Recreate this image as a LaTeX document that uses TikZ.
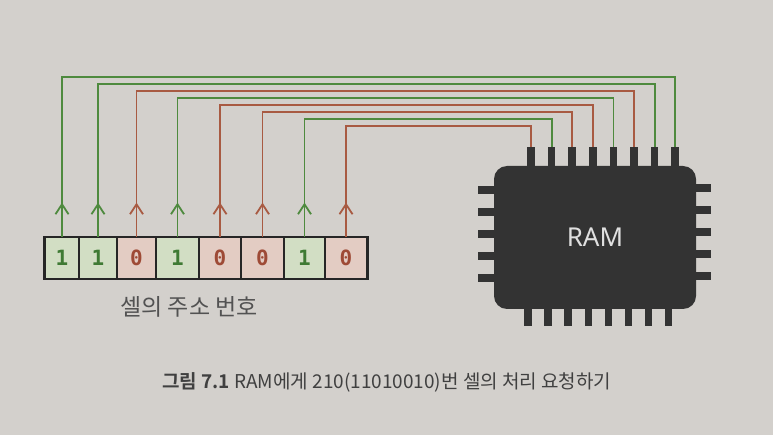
\documentclass[tikz,border=0pt]{standalone}
\usepackage{fontspec}
\setmainfont{Noto Sans}
\newfontfamily\kr{Noto Sans CJK KR}
\newfontfamily\krb{Noto Sans CJK KR}[BoldFont={* Bold}]
\newfontfamily\digitfont{DejaVu Sans Mono}
\usetikzlibrary{arrows.meta}
\definecolor{paper}{HTML}{D3D0CC}
\definecolor{gline}{HTML}{4E8A3E}
\definecolor{rline}{HTML}{A85A42}
\definecolor{gfill}{HTML}{D2DEC4}
\definecolor{rfill}{HTML}{E3CCC3}
\definecolor{gtext}{HTML}{3F7A34}
\definecolor{rtext}{HTML}{9E4A36}
\definecolor{chipc}{HTML}{333333}
\begin{document}
\begin{tikzpicture}[x=1pt,y=-1pt,
  cellbox/.style={draw=black!85,line width=1.8pt,minimum height=41pt,inner sep=0pt,font=\digitfont\bfseries\fontsize{21}{21}\selectfont},
  onecell/.style={cellbox,fill=gfill,text=gtext},
  zerocell/.style={cellbox,fill=rfill,text=rtext},
  gw/.style={draw=gline,line width=1.8pt},
  rw/.style={draw=rline,line width=1.8pt},
  uptip/.style={-{Straight Barb[length=10pt,width=13pt,line width=1.8pt]}},
  pinv/.style={fill=chipc,minimum width=7.5pt,minimum height=20pt,inner sep=0pt},
  pinb/.style={fill=chipc,minimum width=7.5pt,minimum height=17pt,inner sep=0pt},
  pinh/.style={fill=chipc,minimum width=16pt,minimum height=7.5pt,inner sep=0pt},
]
\fill[paper] (0,0) rectangle (773,435);
\useasboundingbox (0,0) rectangle (773,435);

% chip
\node[fill=chipc,rounded corners=13pt,minimum width=202pt,minimum height=143pt,inner sep=0pt,
      text=black!12,font=\fontsize{26}{26}\selectfont] (ram) at (595,237.5) {RAM};
% top pins
\foreach \k in {0,...,7}{
  \node[pinv] (p\k) at ({531+20.6*\k},157) {};
}
% bottom pins
\foreach \k in {0,...,7}{
  \node[pinb] (b\k) at ({528+20.1*\k},317) {};
}
% side pins
\foreach \k/\yy in {0/190,1/212,2/234,3/256,4/278}{
  \node[pinh] (l\k) at (486,\yy) {};
  \node[pinh] (r\k) at (703,\yy-2) {};
}

% cells
\node[onecell,minimum width=34pt]  (c0) at (62,258) {1};
\node[onecell,minimum width=38pt]  (c1) at (98,258) {1};
\node[zerocell,minimum width=39pt] (c2) at (136.5,258) {0};
\node[onecell,minimum width=43pt]  (c3) at (177.5,258) {1};
\node[zerocell,minimum width=42pt] (c4) at (220,258) {0};
\node[zerocell,minimum width=43pt] (c5) at (262.5,258) {0};
\node[onecell,minimum width=41pt]  (c6) at (304.5,258) {1};
\node[zerocell,minimum width=42pt] (c7) at (346,258) {0};
\draw[draw=black!85,line width=1.8pt] (c0.north west) rectangle (c7.south east);

% wires
\foreach \i/\p/\lev/\st in {0/7/77/gw,1/6/84/gw,2/5/91/rw,3/4/98/gw,4/3/105/rw,5/2/112/rw,6/1/119/gw,7/0/126/rw}{
  \draw[\st] (c\i.north) -- (c\i.north |- 0,\lev) -| (p\p.north);
  \draw[\st,uptip] (c\i.north) -- ++(0,-34);
}

% labels
\node[font=\kr\fontsize{23}{23}\selectfont,text=black!68] (lbl) at (189,307) {셀의 주소 번호};
\node[anchor=west,font=\krb\fontsize{19}{19}\selectfont,text=black!75,inner sep=0pt] (cap) at (162,382)
  {\textbf{그림 7.1} RAM에게 210(11010010)번 셀의 처리 요청하기};
\end{tikzpicture}
\end{document}
